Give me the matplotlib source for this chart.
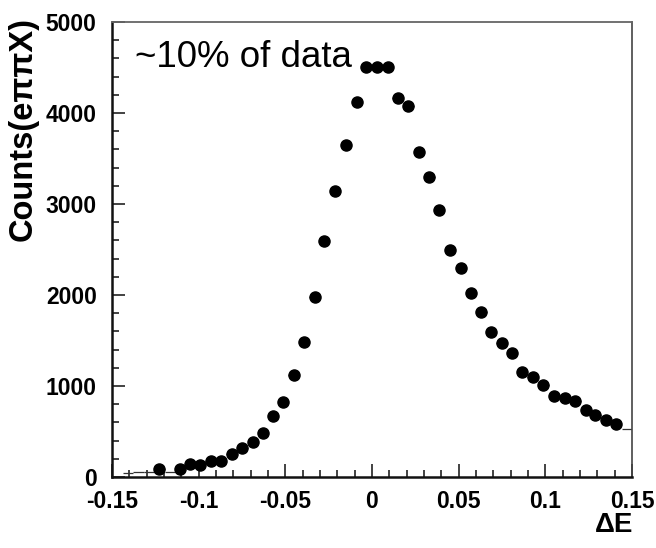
import numpy as np
import matplotlib
matplotlib.use("Agg")
import matplotlib.pyplot as plt
from matplotlib.ticker import MultipleLocator, FuncFormatter

# Delta E bin centres and counts
delta_e = [-0.1407, -0.1347, -0.1287, -0.1227, -0.1167, -0.1108, -0.1050, -0.0991,
           -0.0931, -0.0870, -0.0810, -0.0748, -0.0688, -0.0629, -0.0570, -0.0512,
           -0.0452, -0.0392, -0.0331, -0.0277, -0.0213, -0.0150, -0.0088, -0.0033,
           0.0027, 0.0091, 0.0148, 0.0210, 0.0270, 0.0331, 0.0388, 0.0450,
           0.0512, 0.0570, 0.0631, 0.0688, 0.0748, 0.0808, 0.0866, 0.0927,
           0.0989, 0.1052, 0.1112, 0.1173, 0.1233, 0.1289, 0.1349, 0.1408, 0.1470]
counts = [40, 50, 50, 85, 60, 91, 146, 135,
          176, 179, 256, 319, 385, 487, 674, 821,
          1124, 1480, 1981, 2597, 3143, 3645, 4124, 4509,
          4509, 4509, 4165, 4080, 3575, 3293, 2934, 2495,
          2300, 2025, 1810, 1590, 1476, 1366, 1154, 1096,
          1011, 893, 865, 835, 733, 681, 623, 582, 531]
# bins drawn only as error bars (no marker) in the original
no_marker = [-0.1407, -0.1347, -0.1287, -0.1167, 0.1470]

half_bin = 0.003

plt.rcParams["font.family"] = ["Liberation Sans", "DejaVu Sans"]
plt.rcParams["axes.unicode_minus"] = False


def main():
    x = np.array(delta_e)
    y = np.array(counts)
    shown = ~np.isin(x, no_marker)

    fig = plt.figure(figsize=(6.56, 5.48), dpi=100)
    ax = fig.add_axes([0.1707, 0.1296, 0.7927, 0.8303])

    # horizontal bin-width bars, then markers
    ax.errorbar(x, y, xerr=half_bin, fmt="none", ecolor="#333333", elinewidth=0.9)
    ax.plot(x[shown], y[shown], "o", color="black", markersize=8)

    ax.set_xlim(-0.15, 0.15)
    ax.set_ylim(0, 5000)

    ax.xaxis.set_major_locator(MultipleLocator(0.05))
    ax.xaxis.set_minor_locator(MultipleLocator(0.01))
    ax.yaxis.set_major_locator(MultipleLocator(1000))
    ax.yaxis.set_minor_locator(MultipleLocator(200))
    ax.xaxis.set_major_formatter(FuncFormatter(lambda v, p: "%g" % round(v, 3)))

    ax.tick_params(which="both", direction="in", top=False, right=False,
                   width=1.2, color="#222222")
    ax.tick_params(which="major", length=9.5, labelsize=16.5)
    ax.tick_params(which="minor", length=5)
    ax.tick_params(axis="y", pad=11)
    ax.tick_params(axis="x", pad=9.5)
    for lab in ax.get_xticklabels() + ax.get_yticklabels():
        lab.set_fontweight("bold")

    for side in ["left", "bottom"]:
        ax.spines[side].set_linewidth(1.8)
        ax.spines[side].set_color("#111111")
    ax.spines["top"].set_linewidth(1.3)
    ax.spines["top"].set_color("#666666")
    ax.spines["right"].set_linewidth(1.2)
    ax.spines["right"].set_color("#444444")

    ax.set_ylabel("Counts(eππX)", fontsize=23.5, fontweight="bold")
    ax.yaxis.set_label_coords(-0.142, 0.765)
    ax.set_xlabel("ΔE", fontsize=20, fontweight="bold")
    ax.xaxis.set_label_coords(0.965, -0.078)

    ax.text(0.044, 0.901, "~10% of data", transform=ax.transAxes,
            fontsize=26.5, va="baseline", ha="left")

    fig.savefig("out.png", dpi=100)
    plt.close(fig)


if __name__ == "__main__":
    main()
